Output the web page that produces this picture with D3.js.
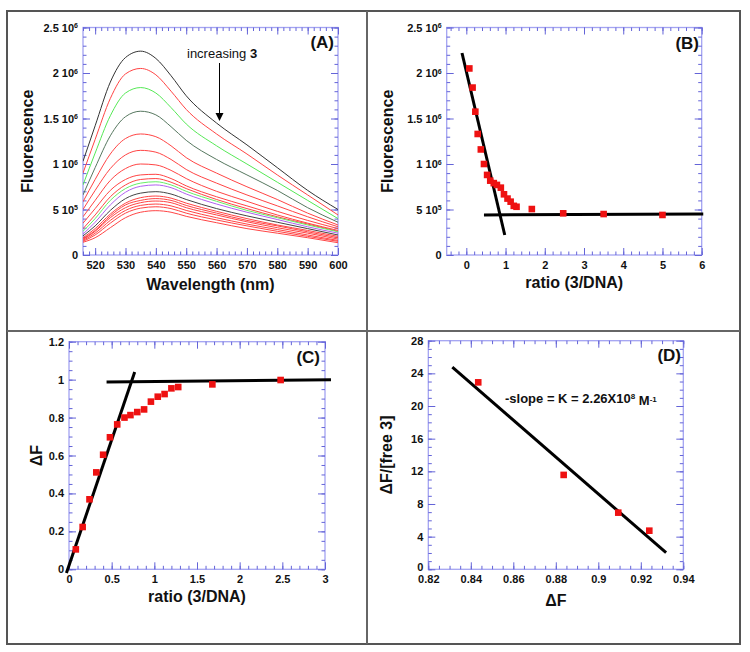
<!DOCTYPE html>
<html>
<head>
<meta charset="utf-8">
<script src="https://cdn.jsdelivr.net/npm/d3@7"></script>
<style>
body { margin: 0; background: #fff; }
text { font-family: Arial, "Liberation Sans", sans-serif; fill: #111; }
.tick text { font-size: 11px; font-weight: bold; }
.ttl { font-size: 16px; font-weight: bold; }
</style>
</head>
<body>
<script>
// ---- data ----
// (A) emission spectra, values in 10^6 units
var wavelengths = [516, 520, 525, 530, 535, 540, 545, 550, 560, 570, 580, 590, 600];
var spectra = [
  [1.03, 1.42, 1.90, 2.17, 2.24, 2.16, 1.97, 1.75, 1.45, 1.21, 0.96, 0.71, 0.50],
  [0.90, 1.27, 1.72, 1.99, 2.05, 1.98, 1.80, 1.60, 1.33, 1.11, 0.88, 0.66, 0.44],
  [0.77, 1.12, 1.53, 1.78, 1.84, 1.78, 1.62, 1.44, 1.20, 1.00, 0.80, 0.60, 0.40],
  [0.66, 0.96, 1.31, 1.52, 1.58, 1.54, 1.41, 1.26, 1.05, 0.88, 0.71, 0.52, 0.36],
  [0.585, 0.83, 1.11, 1.28, 1.33, 1.30, 1.20, 1.07, 0.90, 0.75, 0.61, 0.46, 0.33],
  [0.50, 0.71, 0.95, 1.10, 1.15, 1.13, 1.05, 0.94, 0.79, 0.66, 0.54, 0.42, 0.31],
  [0.42, 0.60, 0.82, 0.95, 1.00, 0.99, 0.93, 0.84, 0.70, 0.59, 0.48, 0.38, 0.29],
  [0.35, 0.51, 0.71, 0.83, 0.88, 0.887, 0.84, 0.76, 0.64, 0.54, 0.44, 0.35, 0.27],
  [0.29, 0.44, 0.64, 0.77, 0.83, 0.84, 0.80, 0.73, 0.61, 0.51, 0.42, 0.34, 0.26],
  [0.26, 0.40, 0.60, 0.73, 0.79, 0.805, 0.77, 0.70, 0.59, 0.49, 0.41, 0.33, 0.255],
  [0.23, 0.36, 0.55, 0.69, 0.755, 0.77, 0.74, 0.67, 0.56, 0.47, 0.39, 0.31, 0.24],
  [0.21, 0.32, 0.49, 0.62, 0.68, 0.696, 0.67, 0.61, 0.51, 0.43, 0.36, 0.29, 0.22],
  [0.19, 0.29, 0.45, 0.57, 0.63, 0.648, 0.625, 0.57, 0.48, 0.40, 0.33, 0.27, 0.205],
  [0.18, 0.27, 0.43, 0.55, 0.60, 0.62, 0.60, 0.545, 0.46, 0.38, 0.32, 0.255, 0.19],
  [0.17, 0.26, 0.41, 0.52, 0.575, 0.593, 0.575, 0.52, 0.44, 0.365, 0.30, 0.24, 0.175],
  [0.16, 0.24, 0.38, 0.49, 0.545, 0.56, 0.54, 0.49, 0.41, 0.34, 0.28, 0.22, 0.16],
  [0.15, 0.22, 0.35, 0.46, 0.515, 0.53, 0.51, 0.46, 0.385, 0.32, 0.26, 0.205, 0.15],
  [0.14, 0.19, 0.30, 0.41, 0.47, 0.487, 0.47, 0.425, 0.355, 0.29, 0.24, 0.19, 0.135]
];
var spectraColors = ["#333333", "#ff4444", "#55e855", "#56775f", "#ff4444", "#ff4444", "#ff4444",
  "#ff4444", "#ff4444", "#66ee66", "#b060f0", "#444444", "#ff4444", "#ff4444", "#ff4444",
  "#ff4444", "#ff4444", "#ff4444"];

// (B) fluorescence vs ratio (10^6 units)
var ratioB = [0.077, 0.16, 0.23, 0.29, 0.37, 0.45, 0.53, 0.61, 0.70, 0.78, 0.88, 0.96, 1.05, 1.13, 1.21, 1.28, 1.67, 2.47, 3.5, 5.0];
var fluorB = [2.05, 1.84, 1.575, 1.33, 1.16, 1.0, 0.88, 0.817, 0.79, 0.77, 0.74, 0.667, 0.62, 0.586, 0.54, 0.53, 0.505, 0.458, 0.45, 0.44];
var fitB1 = [[-0.11, 2.22], [0.98, 0.22]];
var fitB2 = [[0.45, 0.44], [6.04, 0.45]];

// (C) delta F vs ratio
var ratioC = [0.08, 0.16, 0.24, 0.32, 0.40, 0.48, 0.565, 0.65, 0.72, 0.80, 0.88, 0.96, 1.04, 1.12, 1.20, 1.28, 1.68, 2.48];
var deltaC = [0.105, 0.223, 0.369, 0.511, 0.604, 0.696, 0.764, 0.80, 0.813, 0.829, 0.843, 0.884, 0.91, 0.924, 0.954, 0.961, 0.975, 0.998];
var fitC1 = [[-0.03, -0.02], [0.77, 1.04]];
var fitC2 = [[0.44, 0.987], [3.07, 1.0]];

// (D) Scatchard-type plot
var deltaD = [0.8435, 0.8837, 0.9094, 0.924];
var ratioD = [22.9, 11.56, 6.94, 4.73];
var fitD = [[0.8313, 24.75], [0.9319, 2.03]];

var w = 750, h = 652;
var svg = d3.select("body").append("svg").attr("width", w).attr("height", h);

// outer frame and dividers
svg.append("rect").attr("x", 7).attr("y", 11).attr("width", 733).attr("height", 633)
  .attr("fill", "none").attr("stroke", "#555").attr("stroke-width", 2);
svg.append("line").attr("x1", 367).attr("x2", 367).attr("y1", 11).attr("y2", 644)
  .attr("stroke", "#666").attr("stroke-width", 2);
svg.append("line").attr("x1", 7).attr("x2", 740).attr("y1", 331).attr("y2", 331)
  .attr("stroke", "#666").attr("stroke-width", 2);

function sci(v) {
  if (v === 0) return ["0", null];
  if (v < 1) return [d3.format("~g")(+(v * 10).toFixed(3)) + " 10", "5"];
  return [d3.format("~g")(+v.toFixed(3)) + " 10", "6"];
}

function panel(p) {
  var x = d3.scaleLinear().domain(p.xd).range([p.l, p.r]);
  var y = d3.scaleLinear().domain(p.yd).range([p.b, p.t]);
  var g = svg.append("g");
  var tickCol = "#6464d8";

  g.append("rect").attr("x", p.l).attr("y", p.t).attr("width", p.r - p.l).attr("height", p.b - p.t)
    .attr("fill", "none").attr("stroke", "#a4a4f2").attr("stroke-width", 1.3);

  var sides = [
    [d3.axisBottom, x, "translate(0," + p.b + ")", p.xMinor, p.xMajor, "xlab", 6],
    [d3.axisTop, x, "translate(0," + p.t + ")", p.xMinor, p.xMajor, null, 5],
    [d3.axisLeft, y, "translate(" + p.l + ",0)", p.yMinor, p.yMajor, "ylab", 5],
    [d3.axisRight, y, "translate(" + p.r + ",0)", p.yMinor, p.yMajor, null, 5]
  ];
  sides.forEach(function(s) {
    var minor = g.append("g").attr("transform", s[2])
      .call(s[0](s[1]).tickValues(s[3]).tickSize(-3.5));
    minor.select(".domain").remove();
    minor.selectAll("text").remove();
    minor.selectAll("line").attr("stroke", tickCol);
    var major = g.append("g").attr("transform", s[2])
      .call(s[0](s[1]).tickValues(s[4]).tickSize(-7).tickPadding(s[6]));
    major.select(".domain").remove();
    major.selectAll("line").attr("stroke", tickCol);
    if (!s[5]) major.selectAll("text").remove();
    else major.classed(s[5], true);
    major.selectAll("text").attr("fill", "#111").attr("font-family", null).attr("font-size", null);
  });
  return {x: x, y: y, g: g};
}

function titles(p, xTitle, xY, yTitle, yX, tag, tagX, tagY) {
  svg.append("text").attr("class", "ttl").attr("x", (p.l + p.r) / 2).attr("y", xY)
    .attr("text-anchor", "middle").text(xTitle);
  svg.append("text").attr("class", "ttl")
    .attr("transform", "translate(" + yX + "," + (p.t + p.b) / 2 + ") rotate(-90)")
    .attr("text-anchor", "middle").text(yTitle);
  svg.append("text").attr("x", tagX).attr("y", tagY).attr("text-anchor", "end")
    .attr("font-size", 17).attr("font-weight", "bold").text(tag);
}

function sciLabels(pn) {
  pn.g.selectAll(".ylab .tick text").each(function(d) {
    var t = d3.select(this);
    var parts = sci(d);
    t.text(parts[0]);
    if (parts[1]) t.append("tspan").attr("dy", "-0.45em").attr("font-size", 7).text(parts[1]);
  });
}

function plainLabels(pn) {
  pn.g.selectAll(".xlab .tick text, .ylab .tick text")
    .text(function(d) { return d3.format("~g")(+d.toFixed(3)); });
}

function fitLine(pn, pts) {
  pn.g.append("path")
    .attr("d", d3.line().x(function(d) { return pn.x(d[0]); }).y(function(d) { return pn.y(d[1]); })(pts))
    .attr("stroke", "#000").attr("stroke-width", 3).attr("fill", "none");
}

function squares(pn, xs, ys) {
  pn.g.selectAll(null).data(xs).enter().append("rect")
    .attr("x", function(d) { return pn.x(d) - 3.3; })
    .attr("y", function(d, i) { return pn.y(ys[i]) - 3.3; })
    .attr("width", 6.6).attr("height", 6.6).attr("fill", "#ee1111");
}

// ---- panel A ----
var pA = {l: 83, r: 338, t: 27.5, b: 255, xd: [516, 600], yd: [0, 2.5],
  xMajor: d3.range(520, 601, 10), xMinor: d3.range(516, 601, 2),
  yMajor: d3.range(0, 2.51, 0.5), yMinor: d3.range(0, 2.51, 0.1)};
var A = panel(pA);
plainLabels(A);
sciLabels(A);
svg.append("clipPath").attr("id", "clipA").append("rect")
  .attr("x", pA.l).attr("y", pA.t).attr("width", pA.r - pA.l).attr("height", pA.b - pA.t);
var specLine = d3.line().curve(d3.curveMonotoneX)
  .x(function(d, i) { return A.x(wavelengths[i]); })
  .y(function(d) { return A.y(d); });
A.g.append("g").attr("clip-path", "url(#clipA)").selectAll("path").data(spectra).enter().append("path")
  .attr("d", specLine).attr("fill", "none").attr("stroke-width", 1)
  .attr("stroke", function(d, i) { return spectraColors[i]; });
titles(pA, "Wavelength (nm)", 290, "Fluorescence", 33, "(A)", 334, 48);
var ann = svg.append("text").attr("x", 187).attr("y", 58).attr("font-size", 13);
ann.append("tspan").text("increasing ");
ann.append("tspan").attr("font-weight", "bold").text("3");
svg.append("line").attr("x1", 219.5).attr("x2", 219.5).attr("y1", 63).attr("y2", 114)
  .attr("stroke", "#000").attr("stroke-width", 1);
svg.append("path").attr("d", "M215.5,113 L223.5,113 L219.5,121 Z").attr("fill", "#000");

// ---- panel B ----
var pB = {l: 446.7, r: 701.7, t: 27.5, b: 255, xd: [-0.5, 6], yd: [0, 2.5],
  xMajor: d3.range(0, 6.01, 1), xMinor: d3.range(-0.4, 6.01, 0.2),
  yMajor: d3.range(0, 2.51, 0.5), yMinor: d3.range(0, 2.51, 0.1)};
var B = panel(pB);
plainLabels(B);
sciLabels(B);
fitLine(B, fitB1);
fitLine(B, fitB2);
squares(B, ratioB, fluorB);
titles(pB, "ratio (3/DNA)", 288, "Fluorescence", 393, "(B)", 699, 49);

// ---- panel C ----
var pC = {l: 69, r: 325, t: 341.7, b: 569.3, xd: [0, 3], yd: [0, 1.2],
  xMajor: d3.range(0, 3.01, 0.5), xMinor: d3.range(0, 3.01, 0.1),
  yMajor: d3.range(0, 1.21, 0.2), yMinor: d3.range(0, 1.21, 0.05)};
var C = panel(pC);
plainLabels(C);
fitLine(C, fitC1);
fitLine(C, fitC2);
squares(C, ratioC, deltaC);
titles(pC, "ratio (3/DNA)", 602, "\u0394F", 42, "(C)", 320, 363);

// ---- panel D ----
var pD = {l: 428.3, r: 683.3, t: 340.7, b: 569.3, xd: [0.82, 0.94], yd: [0, 28],
  xMajor: d3.range(0.82, 0.9401, 0.02), xMinor: d3.range(0.82, 0.9401, 0.005),
  yMajor: d3.range(0, 28.1, 4), yMinor: d3.range(0, 28.1, 1)};
var D = panel(pD);
plainLabels(D);
// lift the origin label a little so it clears the 0.82 label
D.g.selectAll(".ylab .tick text").filter(function(d) { return d === 0; }).attr("dy", "0.1em");
fitLine(D, fitD);
squares(D, deltaD, ratioD);
titles(pD, "\u0394F", 606, "\u0394F/[free 3]", 392, "(D)", 681, 361);
var k = svg.append("text").attr("x", 505).attr("y", 403).attr("font-size", 13).attr("font-weight", "bold");
k.append("tspan").text("-slope = K = 2.26X10");
k.append("tspan").attr("dy", "-0.45em").attr("font-size", 8).text("8");
k.append("tspan").attr("dy", "0.45em").text(" M");
k.append("tspan").attr("dy", "-0.45em").attr("font-size", 8).text("-1");
</script>
</body>
</html>
